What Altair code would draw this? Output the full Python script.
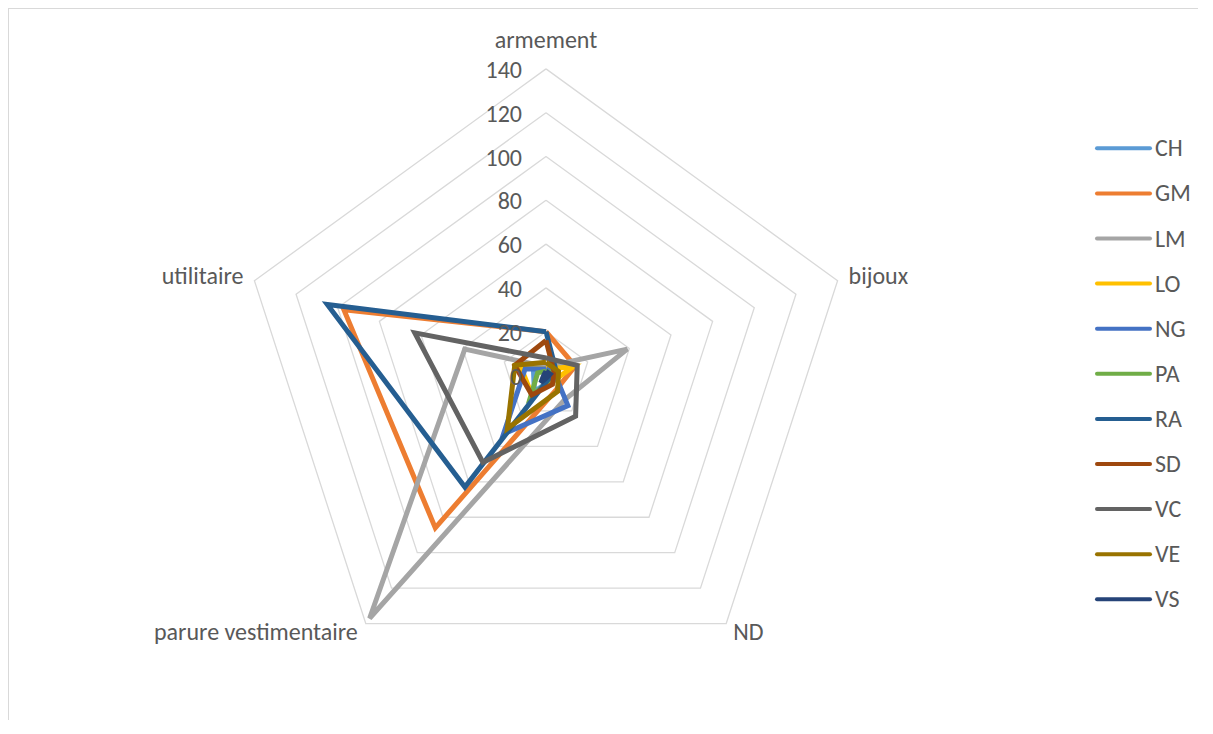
import altair as alt
import pandas as pd

# ---------------- data ----------------
categories = ["armement", "bijoux", "ND", "parure vestimentaire", "utilitaire"]
series = ["CH", "GM", "LM", "LO", "NG", "PA", "RA", "SD", "VC", "VE", "VS"]
colors = ["#5B9BD5", "#ED7D31", "#A5A5A5", "#FFC000", "#4472C4", "#70AD47",
          "#255E91", "#9E480E", "#636363", "#997300", "#264478"]

CH = [4, 3, 3, 9, 6]
GM = [20, 14, 8, 86, 97]
LM = [4, 39, 14, 137, 39]
LO = [3, 13, 4, 11, 12]
NG = [3, 4, 17, 33, 10]
PA = [2, 3, 3, 12, 4]
RA = [20, 5, 2, 63, 105]
SD = [16, 4, 5, 11, 15]
VC = [8, 15, 23, 49, 63]
VE = [6, 6, 9, 30, 15]
VS = [2, 2, 1, 4, 1]
series_values = [CH, GM, LM, LO, NG, PA, RA, SD, VC, VE, VS]

ticks = [0, 20, 40, 60, 80, 100, 120, 140]
rings = [20, 40, 60, 80, 100, 120, 140]

# ---------------- geometry ----------------
W, H = 1190, 712
CX, CY = 538.0, 367.5
K = 2.19  # pixels per unit

xscale = alt.Scale(domain=[-CX / K, (W - CX) / K], nice=False, zero=False)
yscale = alt.Scale(domain=[-(H - CY) / K, CY / K], nice=False, zero=False)

FONT = "Carlito, Calibri, Lato, sans-serif"
FS = 24
TXT = "#595959"
GRID = "#D9D9D9"


def polar(chart):
    return chart.transform_calculate(
        ang="PI/2 - datum.idx*2*PI/5",
        px="datum.v*cos(datum.ang)",
        py="datum.v*sin(datum.ang)",
    )


def enc_xy(ch, **kw):
    return ch.encode(
        x=alt.X("px:Q", scale=xscale, axis=None),
        y=alt.Y("py:Q", scale=yscale, axis=None),
        **kw,
    )


# grid pentagons
grid_rows = []
for r in rings:
    for o in range(6):
        grid_rows.append({"ring": r, "idx": o % 5, "ord": o, "v": r})
grid_df = pd.DataFrame(grid_rows)
grid = enc_xy(
    polar(alt.Chart(grid_df)).mark_line(color=GRID, strokeWidth=1.3),
    detail="ring:N", order="ord:Q",
)

layers = [grid]

# series polygons, drawn in series order (last on top)
for name, vals, col in zip(series, series_values, colors):
    rows = [{"s": name, "idx": o % 5, "ord": o, "v": vals[o % 5]} for o in range(6)]
    d = pd.DataFrame(rows)
    layers.append(
        enc_xy(polar(alt.Chart(d)).mark_line(color=col, strokeWidth=5, strokeJoin="miter"),
               order="ord:Q")
    )

# tick labels along armement axis
tick_df = pd.DataFrame({"t": ticks, "idx": [0] * len(ticks), "v": ticks})
tick_layer = enc_xy(
    polar(alt.Chart(tick_df)).mark_text(align="right", baseline="middle", dx=-24, dy=2,
                                        font=FONT, fontSize=FS, color=TXT),
    text="t:Q",
)
layers.append(tick_layer)

# category labels
offsets = [
    dict(align="center", dx=0, dy=-28),
    dict(align="left", dx=11, dy=-4),
    dict(align="left", dx=7, dy=9),
    dict(align="right", dx=-8, dy=9),
    dict(align="right", dx=-11, dy=-4),
]
for i, cat in enumerate(categories):
    cdf = pd.DataFrame({"cat": [cat], "idx": [i], "v": [140]})
    layers.append(
        enc_xy(polar(alt.Chart(cdf)).mark_text(baseline="middle", font=FONT, fontSize=FS,
                                               color=TXT, **offsets[i]),
               text="cat:N")
    )

# legend (drawn manually)
leg_df = pd.DataFrame({"s": series})
leg_y = alt.Y("s:N", scale=alt.Scale(type="point", domain=series, range=[140.3, 591.3], padding=0),
              axis=None)
leg_color = alt.Color("s:N", scale=alt.Scale(domain=series, range=colors), legend=None)
leg_rule = alt.Chart(leg_df).mark_rule(strokeWidth=4, strokeCap="round").encode(
    y=leg_y, x=alt.value(1089), x2=alt.value(1142), color=leg_color
)
leg_text = alt.Chart(leg_df).mark_text(align="left", baseline="middle", font=FONT,
                                       fontSize=FS, color=TXT, dx=0, dy=1).encode(
    y=leg_y, x=alt.value(1147), text="s:N"
)
layers += [leg_rule, leg_text]

# frame (chart area border)
frame_df = pd.DataFrame({"k": [0]})
frame_top = alt.Chart(frame_df).mark_rule(color=GRID, strokeWidth=1).encode(
    x=alt.value(0), x2=alt.value(W), y=alt.value(0.5)
)
frame_left = alt.Chart(frame_df).mark_rule(color=GRID, strokeWidth=1).encode(
    x=alt.value(0.5), y=alt.value(0), y2=alt.value(H)
)
layers += [frame_top, frame_left]

chart = (
    alt.layer(*layers)
    .resolve_scale(y="independent", color="independent")
    .properties(width=W, height=H, padding=0, autosize=alt.AutoSizeParams(type="none"))
    .configure_view(stroke=None)
)

chart.save("out.html", embed_options={"renderer": "svg", "actions": False})
